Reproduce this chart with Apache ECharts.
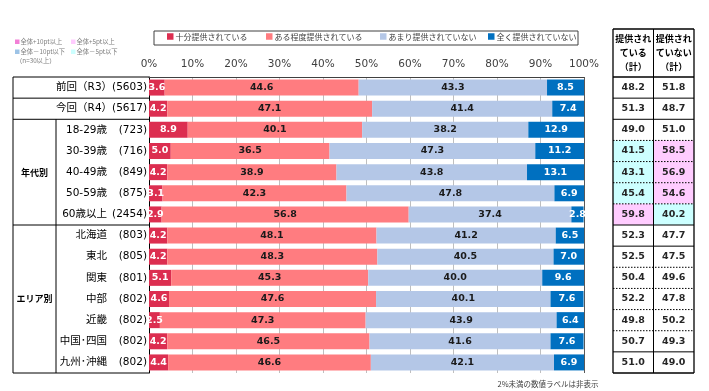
<!DOCTYPE html>
<html><head><meta charset="utf-8">
<script src="https://cdn.jsdelivr.net/npm/echarts@6/dist/echarts.min.js"></script>
<style>html,body{margin:0;padding:0;background:#fff}#c{width:709px;height:391px}</style>
</head><body><div id="c"></div>
<script>
const rowNames = ['前回（R3）','今回（R4）','18-29歳','30-39歳','40-49歳','50-59歳','60歳以上','北海道','東北','関東','中部','近畿','中国･四国','九州･沖縄'];
const rowN = [5603,5617,723,716,849,875,2454,803,805,801,802,802,802,802];
const groupNames = ['年代別','エリア別'];
const groupFirstRow = [2,7];
const groupLastRow = [6,13];
const seriesNames = ['十分提供されている','ある程度提供されている','あまり提供されていない','全く提供されていない'];
const fullyProvided = [3.6,4.2,8.9,5.0,4.2,3.1,2.9,4.2,4.2,5.1,4.6,2.5,4.2,4.4];
const somewhatProvided = [44.6,47.1,40.1,36.5,38.9,42.3,56.8,48.1,48.3,45.3,47.6,47.3,46.5,46.6];
const notMuchProvided = [43.3,41.4,38.2,47.3,43.8,47.8,37.4,41.2,40.5,40.0,40.1,43.9,41.6,42.1];
const notAtAllProvided = [8.5,7.4,12.9,11.2,13.1,6.9,2.8,6.5,7.0,9.6,7.6,6.4,7.6,6.9];
const totalProvided = [48.2,51.3,49.0,41.5,43.1,45.4,59.8,52.3,52.5,50.4,52.2,49.8,50.7,51.0];
const totalNotProvided = [51.8,48.7,51.0,58.5,56.9,54.6,40.2,47.7,47.5,49.6,47.8,50.2,49.3,49.0];
const tableHeaders = ['提供され\nている\n（計）','提供され\nていない\n（計）'];
const highlightLegend = ['全体+10pt以上','全体+5pt以上','全体－10pt以下','全体－5pt以下'];
const noteText = '2%未満の数値ラベルは非表示';

const colors = ['#DC2E50','#FF7C80','#B4C7E7','#0070C0'];
const FONT = "'DejaVu Sans','Noto Sans CJK JP',sans-serif";
const JFONT = "'Noto Sans CJK JP',sans-serif";
const G = {left:149, top:77, width:435, height:296};
const T = {left:613, width:81, top:29};
const rowH = G.height / rowNames.length;
const bottom = G.top + G.height;

const seriesData = [fullyProvided, somewhatProvided, notMuchProvided, notAtAllProvided];
const baseRow = 1;
function cellColor(col, row) {
  if (row < 2) return '#ffffff';
  const arr = col === 0 ? totalProvided : totalNotProvided;
  const d = arr[row] - arr[baseRow];
  if (d >= 10) return '#FF66CC';
  if (d >= 5) return '#FFCCFF';
  if (d <= -10) return '#99CCFF';
  if (d <= -5) return '#CCFFFF';
  return '#ffffff';
}

const graphics = [];
function line(x1,y1,x2,y2,w,dash,color){
  graphics.push({type:'line', z:100, shape:{x1,y1,x2,y2}, style:{stroke:color||'#000', lineWidth:w||1, lineDash:dash||null}});
}
// left table
line(13, G.top, G.left, G.top);
line(13, G.top, 13, bottom);
line(13, bottom, G.left, bottom);
[1,2,7].forEach(r => line(13, G.top + r*rowH, G.left, G.top + r*rowH));
line(56, G.top + 2*rowH, 56, bottom);
groupNames.forEach((g,i) => {
  const yc = G.top + (groupFirstRow[i] + groupLastRow[i] + 1) / 2 * rowH;
  graphics.push({type:'text', z:100, x:34.5, y:yc, style:{text:g, font:'bold 9px '+JFONT, fill:'#000', align:'center', verticalAlign:'middle'}});
});
// right table
const tMid = T.left + T.width/2, tRight = T.left + T.width;
line(T.left, T.top, tRight, T.top, 1.3);
line(T.left, T.top, T.left, bottom, 1.3);
line(tRight, T.top, tRight, bottom, 1.3);
line(tMid, T.top, tMid, bottom, 1);
line(T.left, G.top, tRight, G.top, 1.3);
line(T.left, bottom, tRight, bottom, 1.3);
const solidAfter = [0,1,6,7,12];
for (let r = 0; r < rowNames.length - 1; r++) {
  const y = G.top + (r+1)*rowH;
  if (solidAfter.includes(r)) line(T.left, y, tRight, y, 1);
  else line(T.left, y, tRight, y, 1, [1.5,1.5]);
}
tableHeaders.forEach((h,i) => {
  graphics.push({type:'text', z:100, x:T.left + T.width/4*(2*i+1), y:(T.top+G.top)/2, style:{text:h, font:'bold 9px '+JFONT, fill:'#000', align:'center', verticalAlign:'middle', lineHeight:14}});
});
// top-left highlight legend
const hlColors = ['#F27FD6','#FFCCFF','#9DC3E6','#CCFFFF'];
const hlPos = [[15,42],[71,42],[15,52],[71,52]];
highlightLegend.forEach((t,i) => {
  graphics.push({type:'rect', z:100, shape:{x:hlPos[i][0], y:hlPos[i][1]-2.5, width:4.5, height:4.5}, style:{fill:hlColors[i]}});
  graphics.push({type:'text', z:100, x:hlPos[i][0]+5.5, y:hlPos[i][1], style:{text:t, font:'6.3px '+JFONT, fill:'#7f7f7f', verticalAlign:'middle'}});
});
graphics.push({type:'text', z:100, x:16, y:61, style:{text:'（n=30以上）', font:'6.3px '+JFONT, fill:'#7f7f7f', verticalAlign:'middle'}});
// legend box
graphics.push({type:'rect', z:100, shape:{x:154, y:31, width:424, height:14}, style:{fill:'none', stroke:'#404040', lineWidth:1}});
// note
graphics.push({type:'text', z:100, x:548, y:384, style:{text:noteText, font:'7.5px '+JFONT, fill:'#404040', align:'center', verticalAlign:'middle'}});

const legendLeft = [167,266,380,488];
const legends = seriesNames.map((n,i) => ({
  data:[n], left:legendLeft[i], top:32.5, padding:0, itemWidth:6.5, itemHeight:6.5, icon:'rect',
  selectedMode:false, textStyle:{fontSize:8, color:'#404040', fontFamily:JFONT, padding:[0,0,0,-3]}
}));

const splitColors = ['#000','#bfbfbf','#bfbfbf','#bfbfbf','#bfbfbf','#bfbfbf','#bfbfbf','#bfbfbf','#bfbfbf','#bfbfbf','#595959'];

const option = {
  animation:false,
  textStyle:{fontFamily:FONT},
  legend: legends,
  grid:[
    {left:G.left, top:G.top, width:G.width, height:G.height},
    {left:T.left, top:G.top, width:T.width, height:G.height}
  ],
  xAxis:[
    {type:'value', position:'top', min:0, max:100, interval:10, gridIndex:0,
     axisLabel:{formatter:'{value}%', color:'#404040', fontSize:10.5, margin:7, fontFamily:FONT},
     axisLine:{show:true, lineStyle:{color:'#404040', width:1}}, axisTick:{show:false},
     splitLine:{show:true, lineStyle:{color:splitColors, width:1}}},
    {type:'category', gridIndex:1, data:['提供されている（計）','提供されていない（計）'], show:false}
  ],
  yAxis:[
    {type:'category', inverse:true, data:rowNames, gridIndex:0,
     axisLine:{show:true, lineStyle:{color:'#000', width:1}}, axisTick:{show:false},
     axisLabel:{margin:2, color:'#000', fontSize:10.5, fontFamily:FONT,
       formatter:(v,i) => i < 2 ? `{w|${v}(${rowN[i]})}` : `{a|${v}}{b|(${rowN[i]})}`,
       rich:{w:{fontSize:10.5, fontFamily:FONT, color:'#000'},
             a:{width:55, align:'right', fontSize:10.5, fontFamily:FONT, color:'#000'},
             b:{width:40, align:'right', fontSize:10.5, fontFamily:FONT, color:'#000'}}}},
    {type:'category', inverse:true, data:rowNames, gridIndex:1, show:false}
  ],
  series: seriesData.map((d,k) => ({
    name:seriesNames[k], type:'bar', stack:'all', data:d, barWidth:16,
    xAxisIndex:0, yAxisIndex:0,
    itemStyle:{color:colors[k]},
    label:{show:true, position:'inside', formatter:p => p.value >= 2 ? p.value.toFixed(1) : '',
      color:(k===0||k===3)?'#fff':'#1a1a1a', fontSize:9.5, fontWeight:'bold', fontFamily:FONT}
  })).concat([{
    type:'custom', xAxisIndex:1, yAxisIndex:1, silent:true,
    data: rowNames.flatMap((_,i) => [[0,i,totalProvided[i]],[1,i,totalNotProvided[i]]]),
    renderItem(params, api){
      const x = api.value(0), y = api.value(1), v = api.value(2);
      const c = api.coord([x,y]); const s = api.size([1,1]);
      return {type:'group', children:[
        {type:'rect', shape:{x:c[0]-s[0]/2, y:c[1]-s[1]/2, width:s[0], height:s[1]}, style:{fill:cellColor(x,y)}},
        {type:'text', x:c[0], y:c[1], style:{text:v.toFixed(1), font:'bold 9.5px '+FONT, fill:'#262626', align:'center', verticalAlign:'middle'}}
      ]};
    }
  }]),
  graphic: graphics
};
const chart = echarts.init(document.getElementById('c'), null, {renderer:'canvas'});
chart.setOption(option);
</script></body></html>
